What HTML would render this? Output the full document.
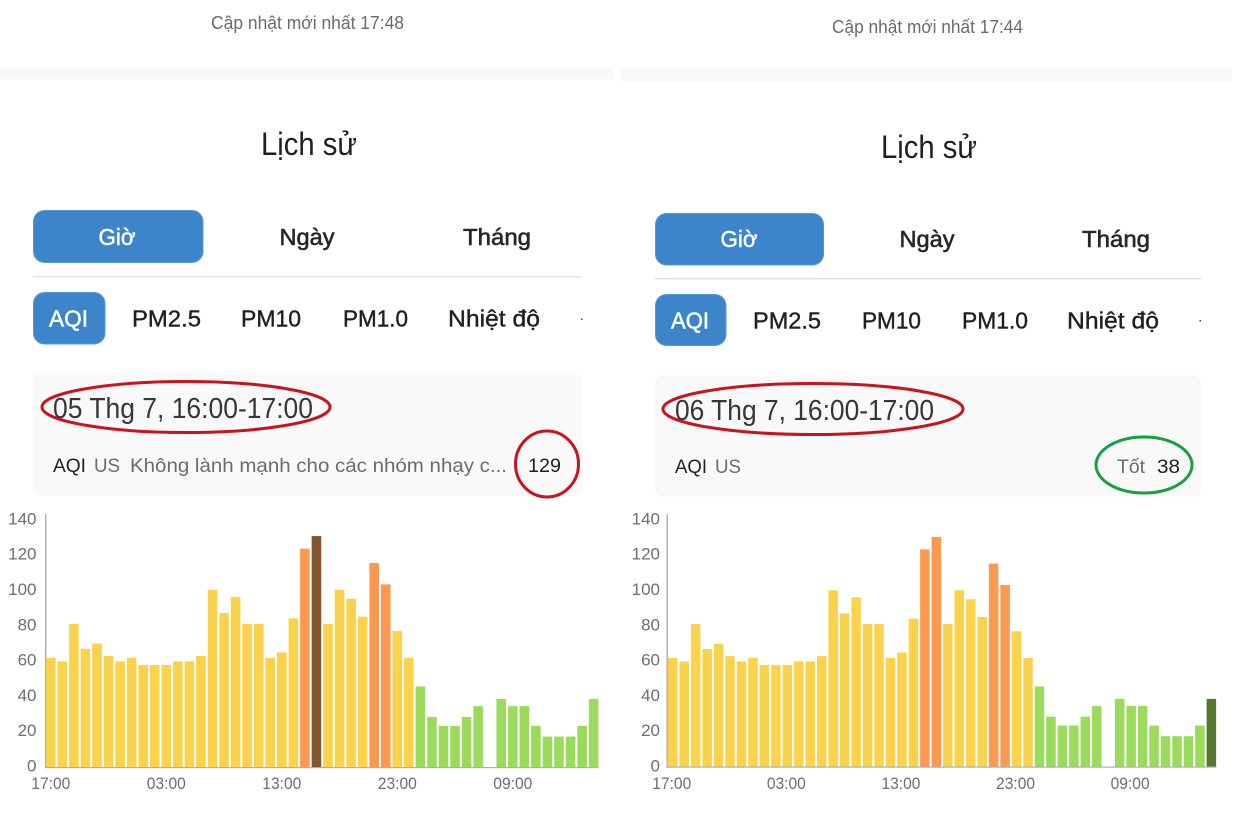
<!DOCTYPE html>
<html lang="vi">
<head>
<meta charset="utf-8">
<title>Lịch sử AQI</title>
<style>
html,body{margin:0;padding:0;background:#fff;width:1240px;height:827px;overflow:hidden}
svg{display:block}
text{font-family:"Liberation Sans","DejaVu Sans",sans-serif}
.gray{fill:#666c72}
.dark{fill:#1d2024}
.tab{font-size:23px;fill:#24272b;stroke:#24272b;stroke-width:.6px;text-anchor:middle}
.sel{font-size:23px;fill:#fff;stroke:#fff;stroke-width:.5px;text-anchor:middle}
.pill{font-size:23px;fill:#1d2024;stroke:#1d2024;stroke-width:.4px}
.date{font-size:29px;fill:#33363a}
.row{font-size:19.5px}
.tick{font-size:17px;fill:#6a6f74}
</style>
</head>
<body>
<svg id="root" xmlns="http://www.w3.org/2000/svg" width="1240" height="827" viewBox="0 0 1240 827">
  <rect width="1240" height="827" fill="#fff"/>

  <g>
    <text x="211" y="29" font-size="18" class="gray" textLength="193" lengthAdjust="spacingAndGlyphs">Cập nhật mới nhất 17:48</text>
    <rect x="0" y="67" width="613" height="12" fill="#f8f8f8"/>
    <text x="261" y="155" font-size="32" class="dark" textLength="96" lengthAdjust="spacingAndGlyphs">Lịch sử</text>

    <rect x="33.5" y="210.5" width="169.5" height="52" rx="11" fill="#3d85cb" stroke="#5b97d0"/>
    <text x="117" y="245" class="sel" textLength="37" lengthAdjust="spacingAndGlyphs">Giờ</text>
    <text x="307" y="245" class="tab" textLength="55" lengthAdjust="spacingAndGlyphs">Ngày</text>
    <text x="497" y="245" class="tab" textLength="68" lengthAdjust="spacingAndGlyphs">Tháng</text>
    <rect x="33" y="276" width="549" height="1.6" fill="#e4e5e6"/>

    <rect x="33.5" y="292.5" width="71.5" height="51.5" rx="11" fill="#3d85cb" stroke="#5b97d0"/>
    <text x="68.5" y="326.5" class="sel" textLength="39" lengthAdjust="spacingAndGlyphs">AQI</text>
    <text x="132" y="326.5" class="pill" textLength="69" lengthAdjust="spacingAndGlyphs">PM2.5</text>
    <text x="241" y="326.5" class="pill" textLength="60" lengthAdjust="spacingAndGlyphs">PM10</text>
    <text x="343" y="326.5" class="pill" textLength="65" lengthAdjust="spacingAndGlyphs">PM1.0</text>
    <text x="448" y="326.5" class="pill" textLength="92" lengthAdjust="spacingAndGlyphs">Nhiệt độ</text>
    <rect x="581" y="318.5" width="1.5" height="1.5" fill="#444"/>

    <rect x="33" y="373" width="549" height="123" rx="9" fill="#f9f9f9"/>
    <text x="53" y="418" class="date" textLength="260" lengthAdjust="spacingAndGlyphs">05 Thg 7, 16:00-17:00</text>
    <text x="53" y="472" class="row dark" textLength="33" lengthAdjust="spacingAndGlyphs">AQI</text>
    <text x="94" y="472" class="row gray" textLength="26" lengthAdjust="spacingAndGlyphs">US</text>
    <text x="130" y="472" class="row gray" textLength="377" lengthAdjust="spacingAndGlyphs">Không lành mạnh cho các nhóm nhạy c...</text>
    <text x="528" y="472" class="row dark" textLength="33" lengthAdjust="spacingAndGlyphs">129</text>
    <ellipse cx="186" cy="407" rx="144" ry="25.5" fill="none" stroke="#c8141e" stroke-width="3"/>
    <ellipse cx="547" cy="464" rx="31.5" ry="33" fill="none" stroke="#c8141e" stroke-width="3"/>
    <g id="chart-left"></g>
  </g>

  <g>
    <text x="832" y="33" font-size="18" class="gray" textLength="191" lengthAdjust="spacingAndGlyphs">Cập nhật mới nhất 17:44</text>
    <rect x="621" y="69" width="611" height="13" fill="#f8f8f8"/>
    <text x="881" y="158" font-size="32" class="dark" textLength="96" lengthAdjust="spacingAndGlyphs">Lịch sử</text>

    <rect x="655.5" y="213.5" width="168" height="51.5" rx="11" fill="#3d85cb" stroke="#5b97d0"/>
    <text x="739" y="247" class="sel" textLength="37" lengthAdjust="spacingAndGlyphs">Giờ</text>
    <text x="927" y="247" class="tab" textLength="55" lengthAdjust="spacingAndGlyphs">Ngày</text>
    <text x="1116" y="247" class="tab" textLength="68" lengthAdjust="spacingAndGlyphs">Tháng</text>
    <rect x="655" y="278" width="546" height="1.6" fill="#e4e5e6"/>

    <rect x="655.5" y="294.5" width="70.5" height="51" rx="11" fill="#3d85cb" stroke="#5b97d0"/>
    <text x="690" y="328.5" class="sel" textLength="38" lengthAdjust="spacingAndGlyphs">AQI</text>
    <text x="753" y="328.5" class="pill" textLength="68" lengthAdjust="spacingAndGlyphs">PM2.5</text>
    <text x="862" y="328.5" class="pill" textLength="59" lengthAdjust="spacingAndGlyphs">PM10</text>
    <text x="962" y="328.5" class="pill" textLength="66" lengthAdjust="spacingAndGlyphs">PM1.0</text>
    <text x="1067" y="328.5" class="pill" textLength="92" lengthAdjust="spacingAndGlyphs">Nhiệt độ</text>
    <rect x="1199.5" y="320" width="1.5" height="1.5" fill="#444"/>

    <rect x="655" y="375" width="546" height="122" rx="9" fill="#f9f9f9"/>
    <text x="675" y="420" class="date" textLength="259" lengthAdjust="spacingAndGlyphs">06 Thg 7, 16:00-17:00</text>
    <text x="675" y="473" class="row dark" textLength="32" lengthAdjust="spacingAndGlyphs">AQI</text>
    <text x="715" y="473" class="row gray" textLength="26" lengthAdjust="spacingAndGlyphs">US</text>
    <text x="1117" y="473" class="row gray" textLength="28" lengthAdjust="spacingAndGlyphs">Tốt</text>
    <text x="1157" y="473" class="row dark" textLength="23" lengthAdjust="spacingAndGlyphs">38</text>
    <ellipse cx="813" cy="409" rx="150" ry="25.5" fill="none" stroke="#c8141e" stroke-width="3"/>
    <ellipse cx="1144" cy="465" rx="48" ry="28" fill="none" stroke="#18a040" stroke-width="3"/>
    <g id="chart-right"></g>
  </g>
</svg>

<script>
const categories = ['17:00','18:00','19:00','20:00','21:00','22:00','23:00','00:00','01:00','02:00','03:00','04:00','05:00','06:00','07:00','08:00','09:00','10:00','11:00','12:00','13:00','14:00','15:00','16:00','17:00','18:00','19:00','20:00','21:00','22:00','23:00','00:00','01:00','02:00','03:00','04:00','05:00','06:00','07:00','08:00','09:00','10:00','11:00','12:00','13:00','14:00','15:00','16:00'];
const aqiValuesLeft = [61,59,80,66,69,62,59,61,57,57,57,59,59,62,99,86,95,80,80,61,64,83,122,129,80,99,94,84,114,102,76,61,45,28,23,23,28,34,0,38,34,34,23,17,17,17,23,38];
const aqiValuesRight = [61,59,80,66,69,62,59,61,57,57,57,59,59,62,99,86,95,80,80,61,64,83,122,129,80,99,94,84,114,102,76,61,45,28,23,23,28,34,0,38,34,34,23,17,17,17,23,38];
const yTickValues = [0,20,40,60,80,100,120,140];
const xTickLabels = ['17:00','03:00','13:00','23:00','09:00'];
const xTickIndexes = [0,10,20,30,40];

const SVG_NS = 'http://www.w3.org/2000/svg';

function barColor(v, selected) {
  if (v <= 50) return selected ? '#56772e' : '#9bdb5c';
  if (v <= 100) return selected ? '#8a6d1f' : '#fbd24b';
  if (v <= 150) return selected ? '#85532c' : '#fc9850';
  return '#c0392b';
}

function drawChart(target, values, selectedIndex, o, side) {
  const g = document.getElementById(target);
  const xBand = i => o.firstBarX + i * o.pitch;
  const yValue = v => o.baseY - v * o.unit;
  const yLabel = v => o.labelZeroY - v * o.labelUnit;

  const yAxis = document.createElementNS(SVG_NS, 'rect');
  yAxis.setAttribute('x', o.axisX);
  yAxis.setAttribute('y', o.axisTop);
  yAxis.setAttribute('width', 1.4);
  yAxis.setAttribute('height', o.baseY - o.axisTop + 1);
  yAxis.setAttribute('fill', '#adadad');
  
  
  g.appendChild(yAxis);

  values.forEach((v, i) => {
    if (!v) return;
    const bar = document.createElementNS(SVG_NS, 'rect');
    bar.setAttribute('x', xBand(i));
    bar.setAttribute('y', yValue(v));
    bar.setAttribute('width', o.barW);
    bar.setAttribute('height', o.baseY - yValue(v));
    bar.setAttribute('fill', barColor(v, i === selectedIndex));
    
    
    g.appendChild(bar);
  });

  const xAxis = document.createElementNS(SVG_NS, 'rect');
  xAxis.setAttribute('x', o.axisX);
  xAxis.setAttribute('y', o.baseY);
  xAxis.setAttribute('width', xBand(values.length - 1) + o.barW - o.axisX + 0.5);
  xAxis.setAttribute('height', 1.2);
  xAxis.setAttribute('fill', '#adadad');
  
  
  g.appendChild(xAxis);

  yTickValues.forEach(v => {
    const t = document.createElementNS(SVG_NS, 'text');
    t.setAttribute('x', o.labelRight);
    t.setAttribute('y', yLabel(v) + 6);
    t.setAttribute('text-anchor', 'end');
    t.setAttribute('class', 'tick');
    
    
    t.textContent = v;
    g.appendChild(t);
  });

  xTickLabels.forEach((label, n) => {
    const t = document.createElementNS(SVG_NS, 'text');
    t.setAttribute('x', xBand(xTickIndexes[n]) + o.barW / 2 + o.labelShift);
    t.setAttribute('y', o.xLabelY);
    t.setAttribute('text-anchor', 'middle');
    t.setAttribute('class', 'tick');
    t.setAttribute('textLength', 39);
    t.setAttribute('lengthAdjust', 'spacingAndGlyphs');
    
    
    t.textContent = label;
    g.appendChild(t);
  });
}

drawChart('chart-left', aqiValuesLeft, 23, {
  firstBarX: 46, pitch: 11.55, barW: 9.6, baseY: 767, unit: 1.79,
  axisX: 45, axisTop: 514, labelRight: 36.5, labelZeroY: 765.5, labelUnit: 1.765, xLabelY: 789, labelShift: 0
}, 'left');

drawChart('chart-right', aqiValuesRight, 47, {
  firstBarX: 668, pitch: 11.46, barW: 9.5, baseY: 766.5, unit: 1.78,
  axisX: 666.5, axisTop: 514, labelRight: 660, labelZeroY: 765.5, labelUnit: 1.765, xLabelY: 789, labelShift: -1
}, 'right');
</script>
</body>
</html>
